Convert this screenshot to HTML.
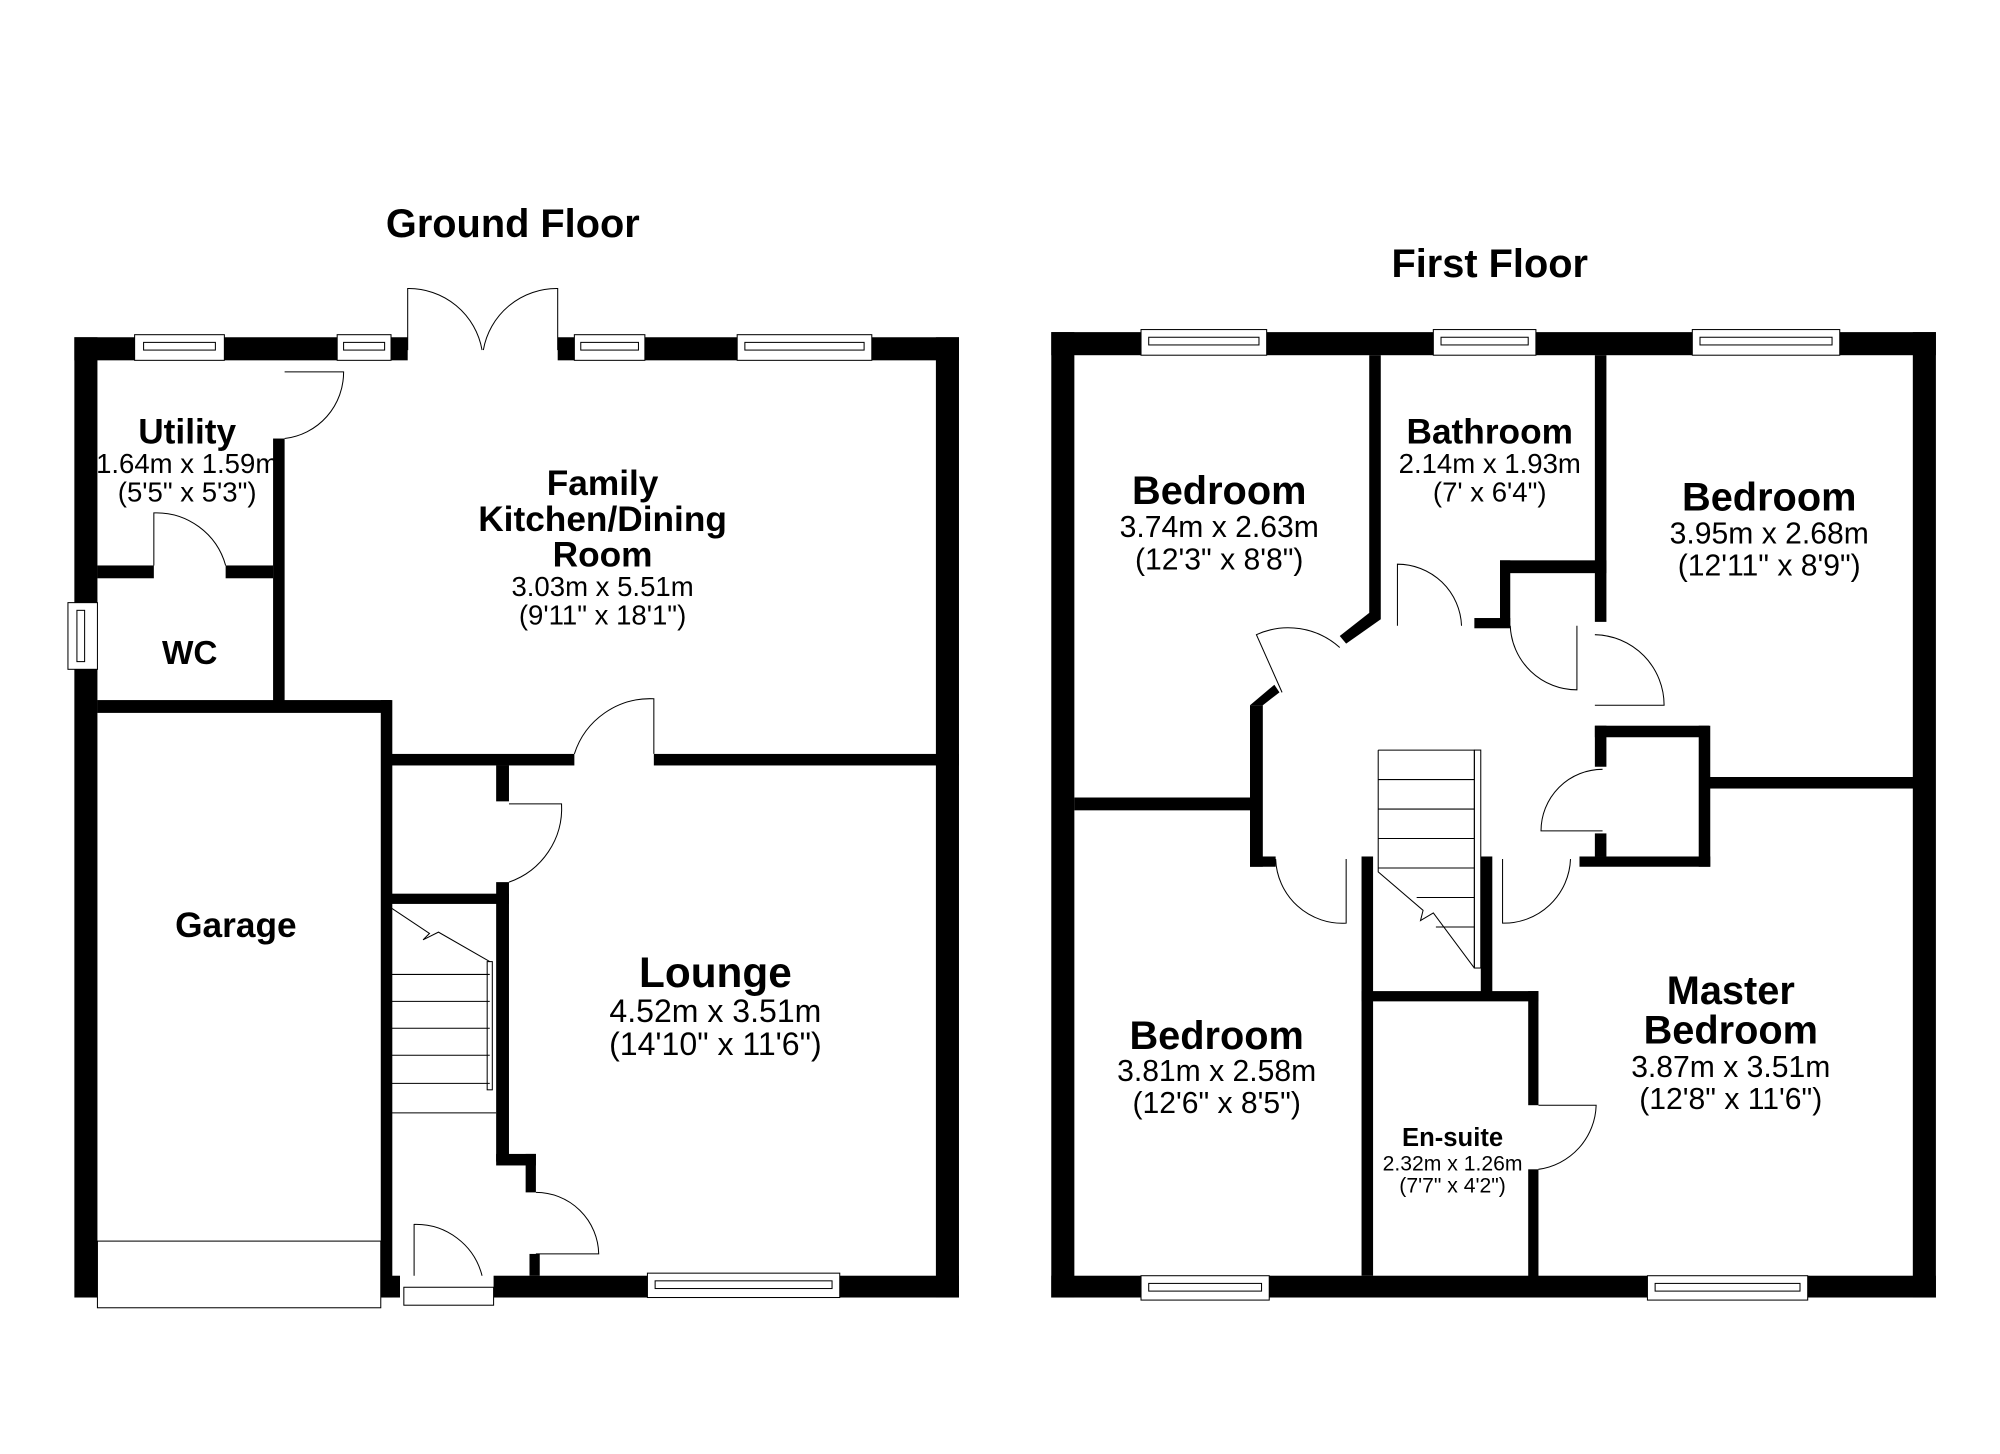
<!DOCTYPE html>
<html><head><meta charset="utf-8"><style>
html,body{margin:0;padding:0;background:#fff}
svg{display:block}
text{font-family:"Liberation Sans",Arial,sans-serif;fill:#000}
.b{font-weight:bold}
</style></head><body>
<svg width="2000" height="1454" viewBox="0 0 1560 1134" xmlns="http://www.w3.org/2000/svg">
<rect width="1560" height="1134" fill="#fff"/>
<g fill="none" stroke="#000" stroke-width="0.8">
<path d="M222 290 L268 290 A52 52 0 0 1 222 342"/>
<path d="M120 441 L120 400 A56 56 0 0 1 176 441"/>
<path d="M510 588 L510 545 A62 62 0 0 0 448 588"/>
<path d="M397 627 L438 627 A61 61 0 0 1 397 688"/>
<path d="M418 930 A49 49 0 0 1 467 978 L418 978"/>
<path d="M323 995 L323 955 A53 53 0 0 1 376 995"/>
<path d="M318 273 L318 225 A58 58 0 0 1 376 273"/>
<path d="M435 273 L435 225 A58 58 0 0 0 377 273"/>
<path d="M305 705 L305 868 L387 868"/>
<path d="M305 760 H382 M305 781 H382 M305 802 H382 M305 823 H382 M305 845 H382"/>
<path d="M305 708 L335 728 L330 733 L342 727 L382 750"/>
<rect x="380" y="750" width="4" height="100"/>
<rect x="76" y="968" width="221" height="52"/>
<rect x="315" y="1004" width="70" height="14"/>
<path d="M1090 488 L1090 440 A50 50 0 0 1 1140 488"/>
<path d="M1178 488 A52 52 0 0 0 1230 538 L1230 488"/>
<path d="M1244 495 A55 55 0 0 1 1298 550 L1244 550"/>
<path d="M1250 600 A48 48 0 0 0 1202 648 L1250 648"/>
<path d="M995 670 A52 52 0 0 0 1050 720 L1050 670"/>
<path d="M1225 670 A52 52 0 0 1 1172 720 L1172 670"/>
<path d="M1045 505 A60 60 0 0 0 980 495 L1000 540"/>
<path d="M1200 912 A52 52 0 0 0 1245 862 L1200 862"/>
<path d="M1075 585 H1150 V755 M1075 585 V680 L1110 710 L1108 718 L1118 712 L1150 755"/>
<path d="M1075 608 H1150 M1075 631 H1150 M1075 654 H1150 M1075 677 H1150 M1105 700 H1150 M1120 723 H1150"/>
<rect x="1150" y="585" width="5" height="170"/>
</g>
<g fill="#000">
<rect x="58" y="263" width="47" height="18"/>
<rect x="175" y="263" width="88" height="18"/>
<rect x="305" y="263" width="13" height="18"/>
<rect x="435" y="263" width="13" height="18"/>
<rect x="503" y="263" width="72" height="18"/>
<rect x="680" y="263" width="68" height="18"/>
<rect x="58" y="263" width="18" height="207"/>
<rect x="58" y="522" width="18" height="490"/>
<rect x="730" y="263" width="18" height="749"/>
<rect x="213" y="342" width="9" height="206"/>
<rect x="76" y="441" width="44" height="10"/>
<rect x="176" y="441" width="37" height="10"/>
<rect x="76" y="546" width="229" height="10"/>
<rect x="297" y="546" width="9" height="466"/>
<rect x="305" y="588" width="143" height="9"/>
<rect x="510" y="588" width="238" height="9"/>
<rect x="387" y="597" width="10" height="28"/>
<rect x="305" y="697" width="92" height="8"/>
<rect x="387" y="688" width="10" height="218"/>
<rect x="387" y="900" width="31" height="9"/>
<rect x="410" y="900" width="8" height="30"/>
<rect x="413" y="978" width="8" height="17"/>
<rect x="297" y="995" width="15" height="17"/>
<rect x="385" y="995" width="120" height="17"/>
<rect x="655" y="995" width="93" height="17"/>
<rect x="820" y="259" width="70" height="18"/>
<rect x="988" y="259" width="130" height="18"/>
<rect x="1198" y="259" width="122" height="18"/>
<rect x="1435" y="259" width="75" height="18"/>
<rect x="820" y="259" width="18" height="753"/>
<rect x="1492" y="259" width="18" height="753"/>
<rect x="820" y="995" width="70" height="17"/>
<rect x="990" y="995" width="295" height="17"/>
<rect x="1410" y="995" width="100" height="17"/>
<rect x="1068" y="277" width="9" height="206"/>
<polygon points="1068,478 1077,483 1050,502 1045,496"/>
<rect x="1244" y="277" width="9" height="208"/>
<rect x="1170" y="437" width="83" height="10"/>
<rect x="1170" y="437" width="8" height="52"/>
<rect x="1150" y="482" width="28" height="8"/>
<rect x="838" y="622" width="140" height="10"/>
<rect x="975" y="550" width="10" height="126"/>
<polygon points="975,550 985,550 998,540 994,534"/>
<rect x="975" y="668" width="20" height="8"/>
<rect x="1062" y="668" width="9" height="327"/>
<rect x="1155" y="668" width="9" height="107"/>
<rect x="1062" y="773" width="138" height="8"/>
<rect x="1192" y="773" width="8" height="89"/>
<rect x="1192" y="912" width="8" height="85"/>
<rect x="1244" y="566" width="89" height="9"/>
<rect x="1325" y="566" width="9" height="110"/>
<rect x="1232" y="668" width="102" height="8"/>
<rect x="1244" y="566" width="9" height="32"/>
<rect x="1244" y="650" width="9" height="18"/>
<rect x="1333" y="606" width="160" height="9"/>
</g>
<g fill="#fff" stroke="#000" stroke-width="0.8">
<rect x="105" y="261" width="70" height="20"/><rect x="112" y="267" width="56" height="6"/>
<rect x="263" y="261" width="42" height="20"/><rect x="268" y="267" width="32" height="6"/>
<rect x="448" y="261" width="55" height="20"/><rect x="453" y="267" width="45" height="6"/>
<rect x="575" y="261" width="105" height="20"/><rect x="581" y="267" width="93" height="6"/>
<rect x="53" y="470" width="23" height="52"/><rect x="60" y="476" width="6" height="40"/>
<rect x="505" y="993" width="150" height="19"/><rect x="511" y="999" width="138" height="6"/>
<rect x="890" y="257" width="98" height="20"/><rect x="896" y="263" width="86" height="6"/>
<rect x="1118" y="257" width="80" height="20"/><rect x="1124" y="263" width="68" height="6"/>
<rect x="1320" y="257" width="115" height="20"/><rect x="1326" y="263" width="103" height="6"/>
<rect x="890" y="995" width="100" height="19"/><rect x="896" y="1001" width="88" height="6"/>
<rect x="1285" y="995" width="125" height="19"/><rect x="1291" y="1001" width="113" height="6"/>
</g>
<text x="400" y="185" text-anchor="middle" class="b" font-size="31">Ground Floor</text>
<text x="1162" y="216" text-anchor="middle" class="b" font-size="31">First Floor</text>
<g text-anchor="middle">
<text x="146" y="346" class="b" font-size="27.5">Utility</text>
<text x="146" y="369" font-size="21.5">1.64m x 1.59m</text>
<text x="146" y="391" font-size="21.5">(5'5" x 5'3")</text>
<text x="148" y="518" class="b" font-size="26">WC</text>
<text x="470" y="386" class="b" font-size="27.5">Family</text>
<text x="470" y="414" class="b" font-size="27.5">Kitchen/Dining</text>
<text x="470" y="442" class="b" font-size="27.5">Room</text>
<text x="470" y="465" font-size="21.5">3.03m x 5.51m</text>
<text x="470" y="487" font-size="21.5">(9'11" x 18'1")</text>
<text x="184" y="731" class="b" font-size="27.5">Garage</text>
<text x="558" y="770" class="b" font-size="33">Lounge</text>
<text x="558" y="797" font-size="25">4.52m x 3.51m</text>
<text x="558" y="823" font-size="25">(14'10" x 11'6")</text>
<text x="951" y="393" class="b" font-size="31">Bedroom</text>
<text x="951" y="419" font-size="23.5">3.74m x 2.63m</text>
<text x="951" y="444" font-size="23.5">(12'3" x 8'8")</text>
<text x="1162" y="346" class="b" font-size="27.5">Bathroom</text>
<text x="1162" y="369" font-size="21.5">2.14m x 1.93m</text>
<text x="1162" y="391" font-size="21.5">(7' x 6'4")</text>
<text x="1380" y="398" class="b" font-size="31">Bedroom</text>
<text x="1380" y="424" font-size="23.5">3.95m x 2.68m</text>
<text x="1380" y="449" font-size="23.5">(12'11" x 8'9")</text>
<text x="949" y="818" class="b" font-size="31">Bedroom</text>
<text x="949" y="843" font-size="23.5">3.81m x 2.58m</text>
<text x="949" y="868" font-size="23.5">(12'6" x 8'5")</text>
<text x="1350" y="783" class="b" font-size="31">Master</text>
<text x="1350" y="814" class="b" font-size="31">Bedroom</text>
<text x="1350" y="840" font-size="23.5">3.87m x 3.51m</text>
<text x="1350" y="865" font-size="23.5">(12'8" x 11'6")</text>
<text x="1133" y="894" class="b" font-size="20">En-suite</text>
<text x="1133" y="913" font-size="16.5">2.32m x 1.26m</text>
<text x="1133" y="930" font-size="16.5">(7'7" x 4'2")</text>
</g>
</svg>
</body></html>
